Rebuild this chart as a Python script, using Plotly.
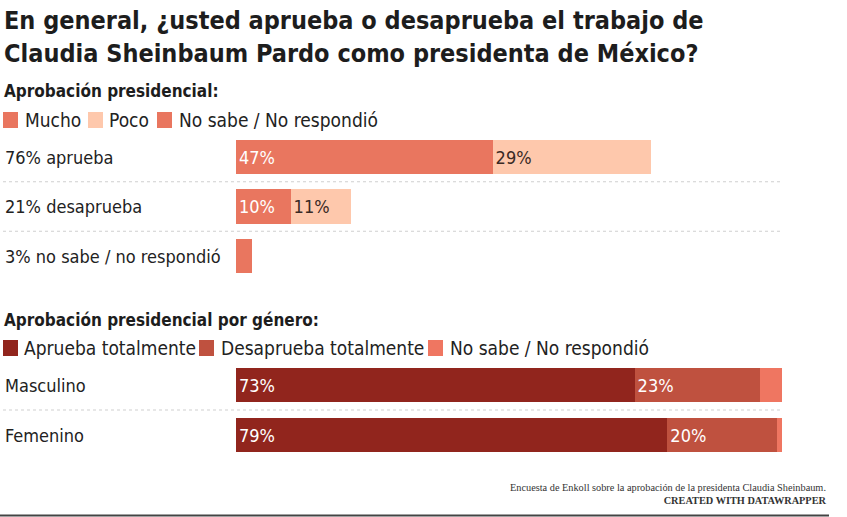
import plotly.graph_objects as go

# ---------------- data ----------------
title_text = "En general, ¿usted aprueba o desaprueba el trabajo de<br>Claudia Sheinbaum Pardo como presidenta de México?"

sec1_title = "Aprobación presidencial:"
sec1_categories = ["76% aprueba", "21% desaprueba", "3% no sabe / no respondió"]
sec1_series = ["Mucho", "Poco", "No sabe / No respondió"]
sec1_mucho = [47, 10, 0]
sec1_poco = [29, 11, 0]
sec1_nosabe = [0, 0, 3]

sec2_title = "Aprobación presidencial por género:"
sec2_categories = ["Masculino", "Femenino"]
sec2_series = ["Aprueba totalmente", "Desaprueba totalmente", "No sabe / No respondió"]
sec2_aprueba = [73, 79]
sec2_desaprueba = [23, 20]
sec2_nosabe = [4, 1]

footer_note = "Encuesta de Enkoll sobre la aprobación de la presidenta Claudia Sheinbaum."
footer_credit = "CREATED WITH DATAWRAPPER"

# ---------------- styling ----------------
W, H = 847, 517
COND = "Liberation Sans Narrow, DejaVu Sans Condensed, Roboto, sans-serif"
SERIF = "Liberation Serif, DejaVu Serif, serif"

c_mucho = "#E9765F"
c_poco = "#FEC8AC"
c_nosabe1 = "#E9765F"
c_aprueba = "#91251D"
c_desaprueba = "#BF513F"
c_nosabe2 = "#EF7661"


def px(x):
    return x / W


def py(y):
    return 1 - y / H


def labels(vals):
    return [f"{v}%" if v >= 5 else "" for v in vals]


fig = go.Figure()

sec1_vals = [sec1_mucho, sec1_poco, sec1_nosabe]
sec1_colors = [c_mucho, c_poco, c_nosabe1]
sec1_txtcol = ["white", "#3a2a25", "white"]
for name, vals, col, tc in zip(sec1_series, sec1_vals, sec1_colors, sec1_txtcol):
    fig.add_trace(go.Bar(
        y=sec1_categories, x=vals, orientation="h", name=name,
        marker=dict(color=col, line=dict(width=0)),
        text=labels(vals), textposition="inside", insidetextanchor="start",
        textfont=dict(family=COND, size=18, color=tc),
        xaxis="x", yaxis="y", showlegend=False, hoverinfo="x+y+name",
    ))

sec2_vals = [sec2_aprueba, sec2_desaprueba, sec2_nosabe]
sec2_colors = [c_aprueba, c_desaprueba, c_nosabe2]
for name, vals, col in zip(sec2_series, sec2_vals, sec2_colors):
    fig.add_trace(go.Bar(
        y=sec2_categories, x=vals, orientation="h", name=name,
        marker=dict(color=col, line=dict(width=0)),
        text=labels(vals), textposition="inside", insidetextanchor="start",
        textfont=dict(family=COND, size=18, color="white"),
        xaxis="x2", yaxis="y2", showlegend=False, hoverinfo="x+y+name",
    ))

xdom = [px(236), px(782)]
axis_common = dict(showgrid=False, zeroline=False, showticklabels=False, showline=False, ticks="")

fig.update_layout(
    width=W, height=H,
    margin=dict(l=0, r=0, t=0, b=0),
    paper_bgcolor="white", plot_bgcolor="rgba(0,0,0,0)",
    barmode="stack", bargap=0.31,
    uniformtext=dict(mode="show", minsize=8),
    xaxis=dict(domain=xdom, range=[0, 100], anchor="y", **axis_common),
    yaxis=dict(domain=[py(280.75), py(132.25)], range=[2.5, -0.5], anchor="x", type="category", **axis_common),
    xaxis2=dict(domain=xdom, range=[0, 100], anchor="y2", **axis_common),
    yaxis2=dict(domain=[py(460), py(360)], range=[1.5, -0.5], anchor="x2", type="category", **axis_common),
    showlegend=False,
)

ann = []
shapes = []

# title
ann.append(dict(text="<b>" + title_text + "</b>", x=px(2), y=py(4), xref="paper", yref="paper",
                xanchor="left", yanchor="top", align="left", showarrow=False,
                font=dict(family=COND, size=25, color="#1d1d1d")))

# section headers
ann.append(dict(text="<b>" + sec1_title + "</b>", x=px(2), y=py(91), xref="paper", yref="paper",
                xanchor="left", yanchor="middle", showarrow=False,
                font=dict(family=COND, size=17, color="#1d1d1d")))
ann.append(dict(text="<b>" + sec2_title + "</b>", x=px(2), y=py(320), xref="paper", yref="paper",
                xanchor="left", yanchor="middle", showarrow=False,
                font=dict(family=COND, size=17, color="#1d1d1d")))


def legend(items, ycenter):
    for (label, col, sq_x, tx) in items:
        shapes.append(dict(type="rect", xref="paper", yref="paper",
                           x0=px(sq_x), x1=px(sq_x + 15), y0=py(ycenter + 8), y1=py(ycenter - 8),
                           fillcolor=col, line=dict(width=0)))
        ann.append(dict(text=label, x=px(tx), y=py(ycenter), xref="paper", yref="paper",
                        xanchor="left", yanchor="middle", showarrow=False,
                        font=dict(family=COND, size=19, color="#222222")))


legend(list(zip(sec1_series, sec1_colors, [3, 88, 157], [23, 107, 177])), 120)
legend(list(zip(sec2_series, sec2_colors, [3, 199, 428], [22, 219, 448])), 348)

# category labels
for cat in sec1_categories:
    ann.append(dict(text=cat, x=px(3), y=cat, xref="paper", yref="y", xanchor="left", yanchor="middle",
                    showarrow=False, font=dict(family=COND, size=18, color="#222222")))
for cat in sec2_categories:
    ann.append(dict(text=cat, x=px(3), y=cat, xref="paper", yref="y2", xanchor="left", yanchor="middle",
                    showarrow=False, font=dict(family=COND, size=18, color="#222222")))

# separators
for k in range(len(sec1_categories) - 1):
    shapes.append(dict(type="line", xref="paper", yref="y", x0=px(3), x1=px(782), y0=k + 0.5, y1=k + 0.5,
                       line=dict(color="#cfcfcf", width=1, dash="dot")))
for k in range(len(sec2_categories) - 1):
    shapes.append(dict(type="line", xref="paper", yref="y2", x0=px(3), x1=px(782), y0=k + 0.5, y1=k + 0.5,
                       line=dict(color="#cfcfcf", width=1, dash="dot")))

# footer
ann.append(dict(text=footer_note + "<br><b>" + footer_credit + "</b>", x=px(829), y=py(480),
                xref="paper", yref="paper", xanchor="right", yanchor="top", align="right", showarrow=False,
                font=dict(family=SERIF, size=10.3, color="#333333")))
shapes.append(dict(type="line", xref="paper", yref="paper", x0=0, x1=px(829), y0=py(515.5), y1=py(515.5),
                   line=dict(color="#444444", width=2)))

fig.update_layout(annotations=ann, shapes=shapes)
fig.write_html("out.html", config={"displayModeBar": False},
               post_script="document.body.style.margin='0';document.body.style.overflow='hidden';")
